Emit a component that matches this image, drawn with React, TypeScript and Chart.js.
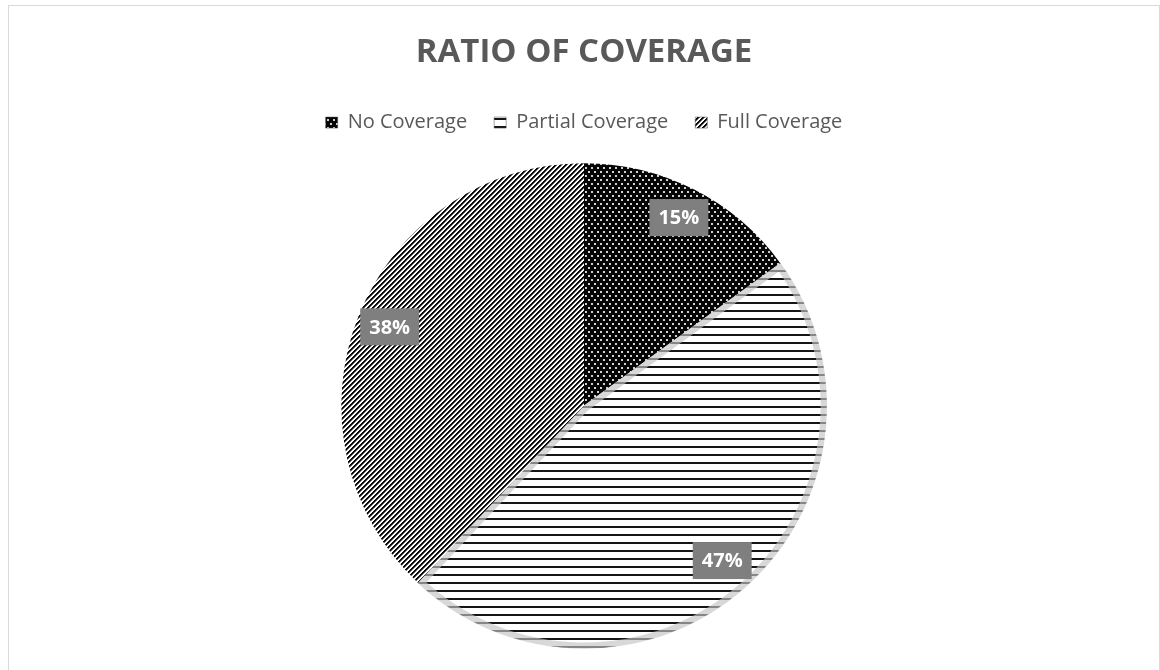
import React, { useEffect, useRef } from 'react';
import { Chart, registerables } from 'chart.js';

Chart.register(...registerables);

const categories: string[] = ['No Coverage', 'Partial Coverage', 'Full Coverage'];
const shares: number[] = [15, 47, 38];
const titleText = 'RATIO OF COVERAGE';

function makeTile(w: number, h: number, draw: (g: CanvasRenderingContext2D) => void) {
  const c = document.createElement('canvas');
  c.width = w;
  c.height = h;
  const g = c.getContext('2d')!;
  draw(g);
  return c;
}

function makePatterns(ctx: CanvasRenderingContext2D) {
  const dots = makeTile(6, 8, (g) => {
    g.fillStyle = '#050505';
    g.fillRect(0, 0, 6, 8);
    g.fillStyle = '#d0d0d0';
    g.fillRect(0, 1, 2, 2);
    g.fillRect(3, 5, 2, 2);
  });
  const horiz = makeTile(8, 8, (g) => {
    g.fillStyle = '#ffffff';
    g.fillRect(0, 0, 8, 8);
    g.fillStyle = '#151515';
    g.fillRect(0, 0, 8, 2);
  });
  const diag = makeTile(5, 5, (g) => {
    g.fillStyle = '#ffffff';
    g.fillRect(0, 0, 5, 5);
    for (let y = 0; y < 5; y++) {
      g.fillStyle = '#0a0a0a';
      g.fillRect((4 - y + 5) % 5, y, 1, 1);
      g.fillRect((5 - y + 5) % 5, y, 1, 1);
      g.fillStyle = '#6a6a6a';
      g.fillRect((6 - y + 5) % 5, y, 1, 1);
    }
  });
  return [
    ctx.createPattern(dots, 'repeat')!,
    ctx.createPattern(horiz, 'repeat')!,
    ctx.createPattern(diag, 'repeat')!,
  ];
}

const boxLabels = {
  id: 'boxLabels',
  afterDatasetsDraw(chart: any) {
    const { ctx } = chart;
    const meta = chart.getDatasetMeta(0);
    const data: number[] = chart.data.datasets[0].data;
    const total = data.reduce((a, b) => a + b, 0);
    ctx.save();
    ctx.font = 'bold 20px "Open Sans"';
    ctx.textAlign = 'center';
    ctx.textBaseline = 'middle';
    meta.data.forEach((arc: any, i: number) => {
      const p = arc.getProps(['x', 'y', 'startAngle', 'endAngle', 'outerRadius'], true);
      const mid = (p.startAngle + p.endAngle) / 2;
      const r = p.outerRadius * 0.86;
      const cx = p.x + Math.cos(mid) * r;
      const cy = p.y + Math.sin(mid) * r - 2;
      const text = Math.round((data[i] / total) * 100) + '%';
      const w = ctx.measureText(text).width + 18;
      const h = 37;
      ctx.fillStyle = '#7f7f7f';
      ctx.fillRect(cx - w / 2, cy - h / 2, w, h);
      ctx.fillStyle = '#ffffff';
      ctx.fillText(text, cx, cy + 1);
    });
    ctx.restore();
  },
};

export default function App() {
  const ref = useRef<HTMLCanvasElement | null>(null);

  useEffect(() => {
    const canvas = ref.current!;
    const ctx = canvas.getContext('2d')!;
    const patterns = makePatterns(ctx);
    const baseGen = (Chart as any).overrides.pie.plugins.legend.labels.generateLabels;
    const chart = new Chart(canvas, {
      type: 'pie',
      data: {
        labels: categories,
        datasets: [
          {
            data: shares,
            backgroundColor: patterns,
            borderColor: ['#ffffff', 'rgba(195,195,195,0.65)', '#ffffff'],
            borderWidth: [0, 6, 0],
            borderAlign: 'inner',
          } as any,
        ],
      },
      options: {
        responsive: false,
        animation: false,
        radius: 243,
        layout: { padding: { bottom: 17 } },
        plugins: {
          title: {
            display: true,
            text: titleText,
            color: '#595959',
            font: { family: '"Open Sans"', size: 33, weight: 'bold' },
            padding: { top: 27, bottom: 13 },
          },
          legend: {
            position: 'top',
            labels: {
              color: '#595959',
              font: { family: '"Open Sans"', size: 20 },
              boxWidth: 12,
              boxHeight: 11,
              padding: 27,
              generateLabels: (c: any) =>
                baseGen(c).map((it: any) => ({ ...it, lineWidth: 0.5, strokeStyle: '#444' })),
            },
          },
          tooltip: { enabled: false },
        },
      } as any,
      plugins: [boxLabels],
    });
    return () => chart.destroy();
  }, []);

  return (
    <div
      style={{
        position: 'fixed',
        left: 8,
        top: 5,
        width: 1152,
        height: 700,
        border: '1px solid #d9d9d9',
        boxSizing: 'border-box',
        background: '#fff',
      }}
    >
      <canvas ref={ref} width={1150} height={680} style={{ display: 'block' }} />
    </div>
  );
}
